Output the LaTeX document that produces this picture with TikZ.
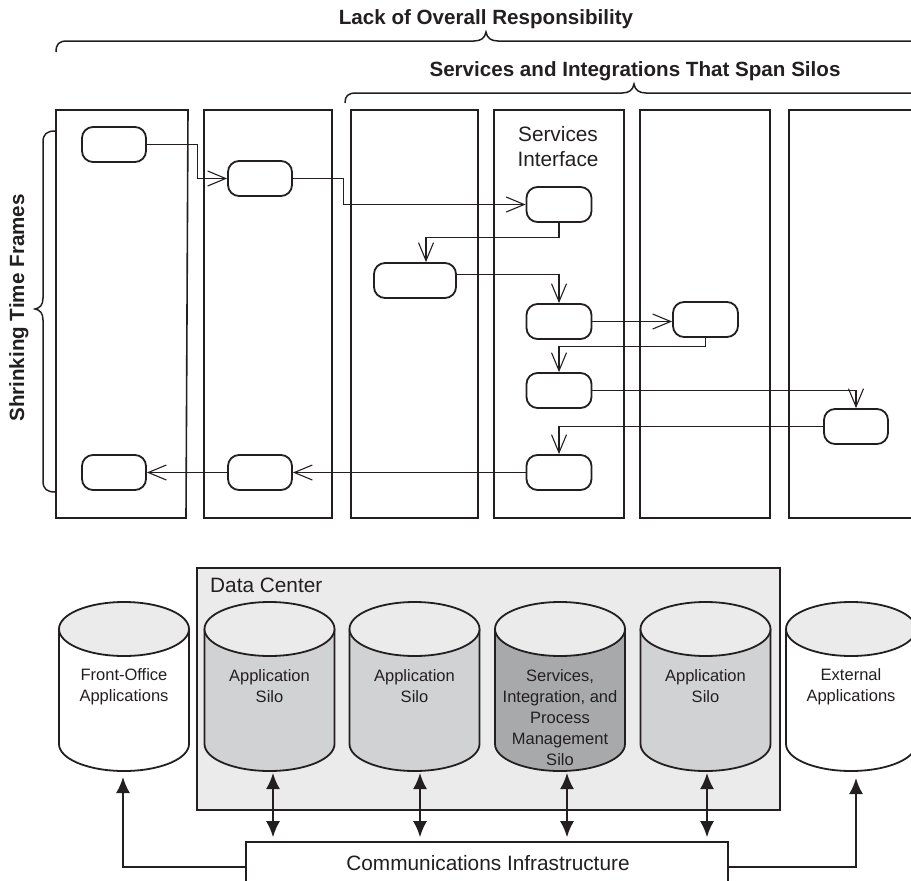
\documentclass[tikz,border=0pt]{standalone}
\usepackage{fontspec}
\setmainfont{Liberation Sans}
\usetikzlibrary{arrows.meta,calc}
\definecolor{ink}{HTML}{231F20}
\definecolor{dcfill}{HTML}{EBEBEC}
\definecolor{silofill}{HTML}{D1D2D4}
\definecolor{svcfill}{HTML}{A8A9AB}
\definecolor{capfill}{HTML}{EBEBEC}
\newcommand\silodraw[2]{%
  \fill[#2] (#1-65,629) -- (#1-65,744) arc[start angle=180,end angle=0,x radius=65,y radius=27] -- (#1+65,629) -- cycle;
  \draw[ink,line width=1.8pt] (#1-65,629) -- (#1-65,744) arc[start angle=180,end angle=0,x radius=65,y radius=27] -- (#1+65,629);
  \draw[ink,line width=1.8pt,fill=capfill] (#1,629) ellipse[x radius=65,y radius=27];
}
\begin{document}
\begin{tikzpicture}[x=1pt,y=-1pt,
  lane/.style={draw=ink,line width=1.6pt},
  act/.style={draw=ink,line width=1.8pt,rounded corners=11pt,fill=white,minimum width=64pt,minimum height=35pt,inner sep=0pt},
  flow/.style={draw=ink,line width=1.1pt,-{Straight Barb[length=18pt,width=15pt]}},
  brace/.style={draw=ink,line width=1.5pt},
  ttl/.style={font=\fontsize{20.6}{24}\selectfont\bfseries,text=ink,inner sep=0pt},
  lbl/.style={font=\fontsize{20.8}{25}\selectfont,text=ink,inner sep=0pt,align=center},
  cyltxt/.style={font=\fontsize{16.5}{21}\selectfont,text=ink,inner sep=0pt,align=center},
  dbl/.style={draw=ink,line width=2pt,{Latex[length=16pt,width=14pt]}-{Latex[length=16pt,width=14pt]}},
  sgl/.style={draw=ink,line width=2pt,-{Latex[length=16pt,width=14pt]}},
]
\useasboundingbox (0,0) rectangle (911,881);
\clip (0,0) rectangle (911,881);

% titles and braces
\node[ttl,anchor=base] (lackttl) at (486,24) {Lack of Overall Responsibility};
\node[ttl,anchor=base] (spanttl) at (635,76) {Services and Integrations That Span Silos};
\node[ttl,anchor=base,rotate=90] (shrinkttl) at (24,308) {Shrinking Time Frames};
\draw[brace] (56,52) .. controls (56,44) and (59,41) .. (67,41) -- (474,41) .. controls (481,41) and (485,38) .. (486,32) .. controls (487,38) and (491,41) .. (498,41) -- (925,41);
\draw[brace] (345,103) .. controls (345,96) and (348,93) .. (356,93) -- (622,93) .. controls (629,93) and (633,90) .. (634,84) .. controls (635,90) and (639,93) .. (646,93) -- (925,93);
\draw[brace] (55,131) .. controls (47,131) and (43,134) .. (43,142) -- (43,298) .. controls (43,305) and (40,308) .. (35,309) .. controls (40,310) and (43,313) .. (43,320) -- (43,481) .. controls (43,489) and (47,492) .. (55,492);

% lanes
\draw[lane] (56,110) -- (188,110) -- (186,518) -- (56,518) -- cycle;
\draw[lane] (204,110) rectangle (332,518);
\draw[lane] (351,110) rectangle (478,518);
\draw[lane] (494,110) rectangle (624,518);
\draw[lane] (640,110) rectangle (770,518);
\draw[lane] (925,110) -- (789,110) -- (789,518) -- (925,518);
\node[lbl] (svcif) at (558,147) {Services\\Interface};

% activities
\node[act] (A) at (114,144.5) {};
\node[act] (B) at (260,178.5) {};
\node[act,minimum width=65pt] (C) at (559,204.5) {};
\node[act,minimum width=82pt] (D) at (415,280.5) {};
\node[act,minimum width=65pt] (E) at (559,321.5) {};
\node[act,minimum width=65pt] (F) at (705.5,319.5) {};
\node[act,minimum width=65pt] (G) at (559,390.5) {};
\node[act,minimum width=64pt] (H) at (856,426.5) {};
\node[act,minimum width=65pt] (I) at (559,472.5) {};
\node[act] (J) at (260,472.5) {};
\node[act] (K) at (114,472.5) {};

\draw[flow] (A.east) -- ++(51,0) |- (B.west);
\draw[flow] (B.east) -- ++(51,0) |- (C.west);
\draw[flow] (C.south) -- ++(0,14.5) -| ([xshift=11pt]D.north);
\draw[flow] ([yshift=6pt]D.east) -| (E.north);
\draw[flow] (E.east) -- (E.east -| F.west);
\draw[flow] (F.south) -- ++(0,9) -| (G.north);
\draw[flow] (G.east) -| (H.north);
\draw[flow] (H.west) -| (I.north);
\draw[flow] (I.west) -- (J.east);
\draw[flow] (J.west) -- (K.east);

% data center
\draw[draw=ink,line width=1.8pt,fill=dcfill] (197,568) rectangle (780,810);
\node[lbl,anchor=base west] (dctxt) at (210,592) {Data Center};

\silodraw{124}{white}
\silodraw{269.5}{silofill}
\silodraw{414.5}{silofill}
\silodraw{560}{svcfill}
\silodraw{705.5}{silofill}
\silodraw{851}{white}

\node[cyltxt] (s1t) at (124,686.5) {Front-Office\\Applications};
\node[cyltxt] (s2t) at (269.5,686.5) {Application\\Silo};
\node[cyltxt] (s3t) at (414.5,686.5) {Application\\Silo};
\node[cyltxt] (s4t) at (560,718) {Services,\\Integration, and\\Process\\Management\\Silo};
\node[cyltxt] (s5t) at (705.5,686.5) {Application\\Silo};
\node[cyltxt] (s6t) at (851,686.5) {External\\Applications};

\coordinate (s1b) at (123,777);
\coordinate (s2b) at (273,773);
\coordinate (s3b) at (420,773);
\coordinate (s4b) at (567,773);
\coordinate (s5b) at (707,773);
\coordinate (s6b) at (856,778);

\node[draw=ink,line width=1.6pt,fill=white,minimum width=482pt,minimum height=58pt,inner sep=0pt] (comm) at (487,871) {};
\node[lbl,anchor=base] (commtxt) at (488,870.5) {Communications Infrastructure};

\draw[dbl,shorten >=4pt] (s2b) -- (s2b |- comm.north);
\draw[dbl,shorten >=4pt] (s3b) -- (s3b |- comm.north);
\draw[dbl,shorten >=4pt] (s4b) -- (s4b |- comm.north);
\draw[dbl,shorten >=4pt] (s5b) -- (s5b |- comm.north);
\draw[sgl] ([yshift=4pt]comm.west) -| (s1b);
\draw[sgl] ([yshift=4pt]comm.east) -| (s6b);
\end{tikzpicture}
\end{document}
